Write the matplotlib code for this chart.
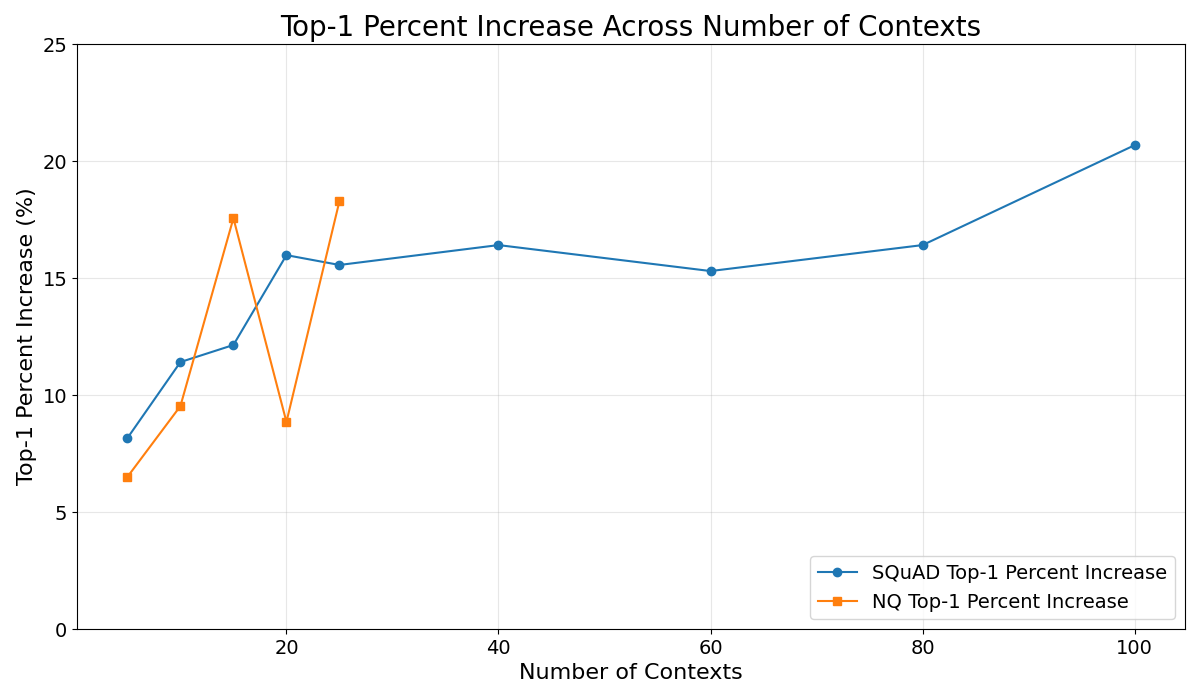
import matplotlib
matplotlib.use('Agg')
import matplotlib.pyplot as plt

# 数据
squad_contexts = [5, 10, 15, 20, 25, 40, 60, 80, 100]
squad_increase = [8.16, 11.41, 12.14, 15.98, 15.56, 16.41, 15.30, 16.41, 20.68]

nq_contexts = [5, 10, 15, 20, 25]
nq_increase = [6.50, 9.53, 17.56, 8.85, 18.29]

fig, ax = plt.subplots(figsize=(12, 7), dpi=100)

ax.plot(squad_contexts, squad_increase, marker='o', color='#1f77b4',
        label='SQuAD Top-1 Percent Increase')
ax.plot(nq_contexts, nq_increase, marker='s', color='#ff7f0e',
        label='NQ Top-1 Percent Increase')

ax.set_title('Top-1 Percent Increase Across Number of Contexts', fontsize=20)
ax.set_xlabel('Number of Contexts', fontsize=16)
ax.set_ylabel('Top-1 Percent Increase (%)', fontsize=16)
ax.set_ylim(0, 25)
ax.tick_params(labelsize=14)
ax.grid(True, alpha=0.3)
ax.legend(loc='lower right', fontsize=14)

plt.subplots_adjust(left=0.0642, right=0.9875, top=0.937, bottom=0.1014)
plt.savefig('out.png', dpi=100)
plt.close()
